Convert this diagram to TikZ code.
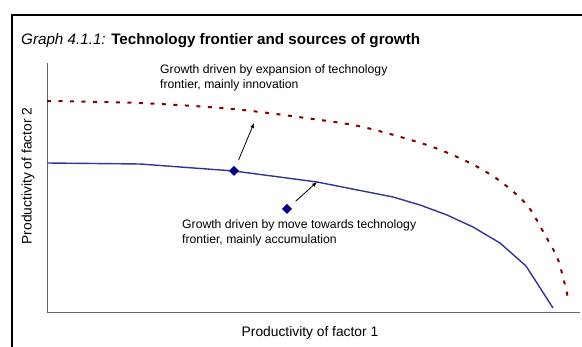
\documentclass[tikz,border=0pt]{standalone}
\usepackage{fontspec}
\setmainfont{Liberation Sans}
\usetikzlibrary{arrows.meta,shapes.geometric}
\definecolor{frontblue}{RGB}{51,51,153}
\definecolor{frontred}{RGB}{128,0,0}
\definecolor{dotblue}{RGB}{0,0,128}

\begin{document}
\begin{tikzpicture}[
  x=1pt, y=-1pt,
  every node/.style={font=\fontsize{12.2}{15.5}\selectfont, inner sep=0pt},
  note/.style={align=left, anchor=base west},
  axlabel/.style={font=\fontsize{13.8}{16}\selectfont},
  axis/.style={draw=gray!80!black, line width=1pt},
  frontier/.style={draw=frontblue, line width=1.4pt, line join=round},
  newfrontier/.style={draw=frontred, line width=2pt, dash pattern=on 4pt off 7.5pt},
  point/.style={diamond, fill=dotblue, minimum width=10pt, minimum height=10pt, outer sep=0pt},
  arr/.style={-{Latex[length=5pt,width=4pt]}, line width=0.8pt}
]
  \useasboundingbox (0,0) rectangle (582,347);
  % frame and axes
  \draw[line width=1.2pt] (12,360) -- (12,15) -- (600,15);
  \draw[axis] (47,63) -- (47,312.5) -- (580,312.5);

  \node[anchor=base west, font=\fontsize{15.2}{17}\selectfont] (title) at (21,45)
    {\textit{Graph 4.1.1:} \textbf{Technology frontier and sources of growth}};

  % frontiers
  \draw[newfrontier] plot[smooth, tension=0.5] coordinates {(47,101) (140,103) (233,109)
    (313,119) (363,127) (427,145) (470,163) (500,181) (527,205) (545,235)
    (557,257) (563,277) (569,302)};
  \draw[frontier] plot coordinates {(47,163) (140,164) (234,171) (317,182) (393,197)
    (420,205) (447,215) (473,227) (500,243) (526,266) (553,308)};

  \node[point] (d1) at (234,171) {};
  \node[point] (d2) at (287,209) {};
  \coordinate (e1) at (254,123);
  \coordinate (e2) at (317,182);
  \draw[arr, shorten <=8pt] (d1) -- (e1);
  \draw[arr, shorten <=8pt] (d2) -- (e2);

  \node[note] (innov) at (160,89)
    {Growth driven by expansion of technology\\frontier, mainly innovation};
  \node[note] (accum) at (182,244)
    {Growth driven by move towards technology\\frontier, mainly accumulation};

  \node[axlabel] (xlab) at (310,333) {Productivity of factor 1};
  \node[axlabel, rotate=90] (ylab) at (28,176) {Productivity of factor 2};
\end{tikzpicture}
\end{document}
